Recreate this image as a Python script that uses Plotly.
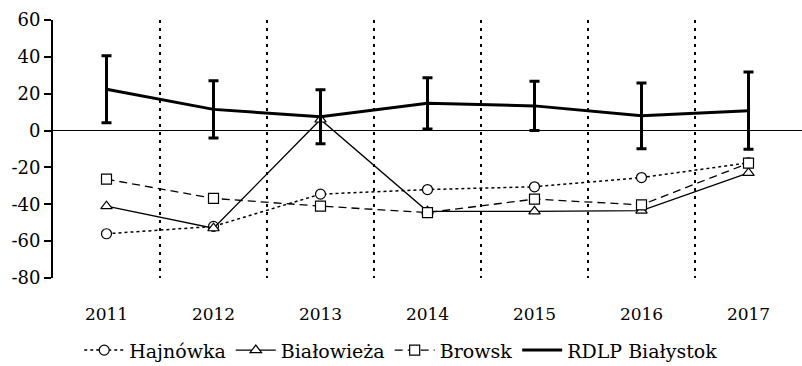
import plotly.graph_objects as go

years = [2011, 2012, 2013, 2014, 2015, 2016, 2017]
hajnowka = [-56, -52, -34.5, -32, -30.5, -25.5, -17.5]
bialowieza = [-41, -53, 6, -43.8, -43.8, -43.4, -23]
browsk = [-26.4, -36.8, -41, -44.5, -37.2, -40.3, -17.7]
rdlp = [22.4, 11.5, 7.5, 14.8, 13.4, 8.0, 10.8]
rdlp_err = [18.2, 15.5, 14.6, 13.9, 13.4, 17.8, 21.0]

y_ticks = [-80, -60, -40, -20, 0, 20, 40, 60]
y_ticktext = ["-80", "-60", "-40", "-20", "0", "20", "40", "60"]

serif = "DejaVu Serif"

fig = go.Figure()

marker_style = dict(size=10, color="white", line=dict(color="black", width=1.2))

fig.add_trace(go.Scatter(
    x=years, y=hajnowka, name="Hajnówka", mode="lines+markers",
    line=dict(color="black", width=1.5, dash="dot"),
    marker=dict(symbol="circle", **marker_style),
))
fig.add_trace(go.Scatter(
    x=years, y=bialowieza, name="Białowieża", mode="lines+markers",
    line=dict(color="black", width=1.3),
    marker=dict(symbol="triangle-up", **marker_style),
))
fig.add_trace(go.Scatter(
    x=years, y=browsk, name="Browsk", mode="lines+markers",
    line=dict(color="black", width=1.3, dash="8px,5px"),
    marker=dict(symbol="square", **marker_style),
))
fig.add_trace(go.Scatter(
    x=years, y=rdlp, name="RDLP Białystok", mode="lines",
    line=dict(color="black", width=3),
    error_y=dict(type="data", array=rdlp_err, visible=True,
                 color="black", thickness=3, width=5),
))

fig.update_layout(
    width=802, height=366,
    margin=dict(l=53, r=0, t=20, b=88, autoexpand=False),
    paper_bgcolor="white", plot_bgcolor="white",
    font=dict(family=serif, size=17, color="black"),
    showlegend=True,
    legend=dict(orientation="h", x=0.035, xanchor="left", y=-0.28, yanchor="middle",
                font=dict(family=serif, size=19), itemwidth=40,
                traceorder="normal", bgcolor="rgba(0,0,0,0)"),
    xaxis=dict(
        range=[2010.5, 2017.5], tickmode="array", tickvals=years,
        ticktext=[str(y) for y in years],
        showgrid=False, zeroline=False, showline=False, ticks="",
        ticklabelstandoff=24,
        tickfont=dict(family=serif, size=17),
        minor=dict(tickvals=[2011.5, 2012.5, 2013.5, 2014.5, 2015.5, 2016.5],
                   showgrid=True, gridcolor="black", gridwidth=2,
                   griddash="3px,5px"),
    ),
    yaxis=dict(
        range=[-80, 60], tickmode="array", tickvals=y_ticks, ticktext=y_ticktext,
        showgrid=False,
        zeroline=True, zerolinecolor="black", zerolinewidth=1.2,
        showline=True, linecolor="black", linewidth=2,
        ticks="outside", ticklen=7, tickwidth=2, tickcolor="black",
        tickfont=dict(family=serif, size=18),
    ),
)

fig.write_html("out.html")
